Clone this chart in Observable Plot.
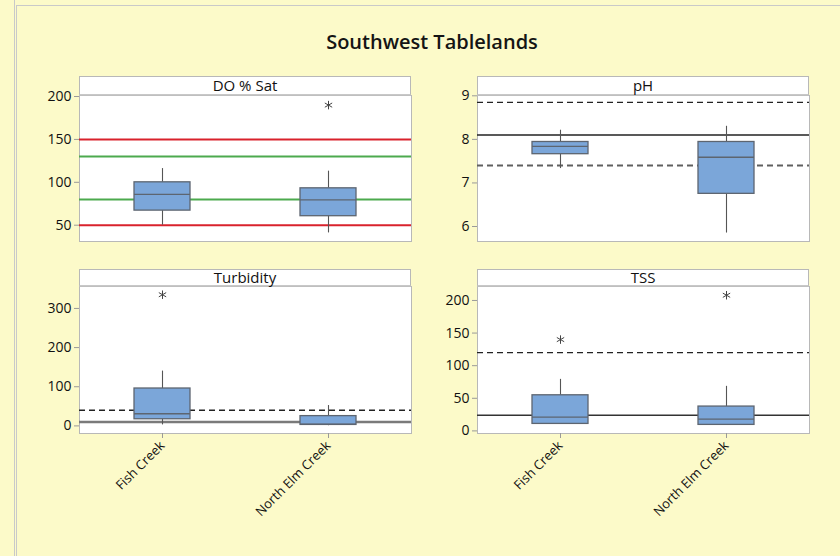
<!DOCTYPE html>
<html>
<head>
<meta charset="utf-8">
<script src="https://cdn.jsdelivr.net/npm/d3@7"></script>
<script src="https://cdn.jsdelivr.net/npm/@observablehq/plot@0.6"></script>
<style>
  html, body { margin: 0; padding: 0; }
  body { width: 840px; height: 556px; overflow: hidden; background: #fcfac9; }
  #chart { position: relative; width: 840px; height: 556px; background: #fcfac9;
           font-family: "Segoe UI", "Open Sans", "Noto Sans", sans-serif; }
  #edge { position: absolute; left: 14px; top: 0; height: 556px; border-left: 1px solid #c9c9c9; }
  #sheet { position: absolute; left: 16px; top: 5px; width: 840px; height: 560px;
           border-left: 1px solid #c9c9c9; border-top: 1px solid #c9c9c9; }
  #title { position: absolute; left: 232px; width: 400px; top: 32px; line-height: 20px;
           text-align: center; font-size: 20px; font-weight: 600; color: #141414; }
  .panel { position: absolute; }
  .panel svg { overflow: visible; }
</style>
</head>
<body>
<div id="chart">
  <div id="edge"></div>
  <div id="sheet"></div>
  <div id="title">Southwest Tablelands</div>
</div>
<script>
// Sampling sites along the x axis
const sites = ["Fish Creek", "North Elm Creek"];

// Box summaries per site: [lower whisker, Q1, median, Q3, upper whisker]
const doSatStats = [
  [50, 67, 86, 100, 116],
  [41, 60.5, 79.5, 93, 113]
];
const phStats = [
  [7.33, 7.66, 7.84, 7.94, 8.21],
  [5.85, 6.75, 7.59, 7.94, 8.3]
];
const turbidityStats = [
  [2.5, 17, 31, 95.5, 140],
  [0.5, 2.5, 4.5, 25, 52]
];
const tssStats = [
  [10.7, 10.7, 21, 54.6, 79],
  [9, 9.2, 18, 37.3, 68.3]
];

// Outliers: [site, value]
const doSatOutliers = [["North Elm Creek", 190]];
const phOutliers = [];
const turbidityOutliers = [["Fish Creek", 335]];
const tssOutliers = [["Fish Creek", 140], ["North Elm Creek", 208]];

// Guideline values
const doSatRedLimits = [50, 150];
const doSatGreenLimits = [80, 130];
const phSolid = [8.1];
const phDashedUpper = [8.85];
const phDashedLower = [7.4];
const turbiditySolid = [10];
const turbidityDashed = [40];
const tssSolid = [24];
const tssDashed = [120];

// Axis ticks
const doSatTicks = [50, 100, 150, 200];
const phTicks = [6, 7, 8, 9];
const turbidityTicks = [0, 100, 200, 300];
const tssTicks = [0, 50, 100, 150, 200];

const BOX_FILL = "#7ba6d9";
const BOX_EDGE = "#5d6570";
const WHISKER = "#555";
const FRAME = "#b8b8b8";
const BOX_INSET = 55;

function panel({title, stats, outliers, domain, ticks, guides, showX,
                left, top, width, height, marginLeft, marginRight, marginTop, marginBottom}) {
  const rows = sites.map((site, i) => ({
    site, low: stats[i][0], q1: stats[i][1], median: stats[i][2], q3: stats[i][3], high: stats[i][4]
  }));
  const svg = Plot.plot({
    width, height, marginLeft, marginRight, marginTop, marginBottom,
    style: {background: "transparent", fontFamily: "'Segoe UI', 'Open Sans', sans-serif", fontSize: "13px", overflow: "visible"},
    x: {type: "band", domain: sites, padding: 0, label: null, ...(showX ? {} : {axis: null})},
    y: {domain, axis: null, label: null},
    marks: [
      Plot.frame({fill: "white", stroke: FRAME}),
      ...guides,
      Plot.ruleX(rows, {x: "site", y1: "low", y2: "q1", stroke: WHISKER, strokeWidth: 1.1}),
      Plot.ruleX(rows, {x: "site", y1: "q3", y2: "high", stroke: WHISKER, strokeWidth: 1.1}),
      Plot.barY(rows, {x: "site", y1: "q1", y2: "q3", fill: BOX_FILL, stroke: BOX_EDGE, strokeWidth: 1.3,
                       insetLeft: BOX_INSET, insetRight: BOX_INSET}),
      Plot.tickY(rows, {x: "site", y: "median", stroke: BOX_EDGE, strokeWidth: 1.3,
                        insetLeft: BOX_INSET, insetRight: BOX_INSET}),
      Plot.dot(outliers, {x: d => d[0], y: d => d[1], symbol: "asterisk", r: 4, stroke: "#444", strokeWidth: 1}),
      Plot.axisY(ticks, {tickSize: 5, tickPadding: 3, stroke: "#9a9a9a", fill: "#111", label: null}),
      showX ? Plot.axisX({tickSize: 5, tickPadding: 5, tickRotate: -45, stroke: "#9a9a9a", fill: "#111",
                          label: null}) : null
    ]
  });

  const s = d3.select(svg);
  // Tick label sizes
  s.selectAll("g[aria-label='y-axis tick label']").attr("font-size", 14);
  s.selectAll("g[aria-label='x-axis tick label']").attr("font-size", 13);

  // Panel header strip with the parameter name
  const [x0, x1] = [marginLeft, width - marginRight];
  const head = s.append("g");
  head.append("rect")
    .attr("x", x0 + 0.5).attr("y", 0.5)
    .attr("width", x1 - x0 - 1).attr("height", marginTop - 0.5)
    .attr("fill", "white").attr("stroke", FRAME);
  head.append("line")
    .attr("x1", x0).attr("x2", x1).attr("y1", marginTop).attr("y2", marginTop)
    .attr("stroke", "#c2c2c2").attr("stroke-width", 1.6);
  head.append("text")
    .attr("x", (x0 + x1) / 2).attr("y", marginTop / 2 + 5.5)
    .attr("text-anchor", "middle").attr("font-size", 15).attr("fill", "#111")
    .text(title);

  const div = document.createElement("div");
  div.className = "panel";
  div.style.left = left + "px";
  div.style.top = top + "px";
  div.appendChild(svg);
  document.getElementById("chart").appendChild(div);
}

const dashed = "6,4";

panel({
  title: "DO % Sat", stats: doSatStats, outliers: doSatOutliers,
  domain: [31, 201.2], ticks: doSatTicks, showX: false,
  guides: [
    Plot.ruleY(doSatRedLimits, {stroke: "#d9222c", strokeWidth: 2}),
    Plot.ruleY(doSatGreenLimits, {stroke: "#4caa4e", strokeWidth: 2})
  ],
  left: 0, top: 76, width: 420, height: 166, marginLeft: 79, marginRight: 9, marginTop: 19, marginBottom: 1
});

panel({
  title: "pH", stats: phStats, outliers: phOutliers,
  domain: [5.656, 9.007], ticks: phTicks, showX: false,
  guides: [
    Plot.ruleY(phSolid, {stroke: "#222", strokeWidth: 1.3}),
    Plot.ruleY(phDashedUpper, {stroke: "#222", strokeWidth: 1.3, strokeDasharray: dashed}),
    Plot.ruleY(phDashedLower, {stroke: "#606060", strokeWidth: 1.8, strokeDasharray: dashed})
  ],
  left: 420, top: 76, width: 420, height: 166, marginLeft: 57, marginRight: 31, marginTop: 19, marginBottom: 1
});

panel({
  title: "Turbidity", stats: turbidityStats, outliers: turbidityOutliers,
  domain: [-19.4, 356], ticks: turbidityTicks, showX: true,
  guides: [
    Plot.ruleY(turbiditySolid, {stroke: "#7a7a7a", strokeWidth: 2.4}),
    Plot.ruleY(turbidityDashed, {stroke: "#222", strokeWidth: 1.3, strokeDasharray: dashed})
  ],
  left: 0, top: 269, width: 420, height: 264, marginLeft: 79, marginRight: 9, marginTop: 17, marginBottom: 100
});

panel({
  title: "TSS", stats: tssStats, outliers: tssOutliers,
  domain: [-4, 221.4], ticks: tssTicks, showX: true,
  guides: [
    Plot.ruleY(tssSolid, {stroke: "#333", strokeWidth: 1.3}),
    Plot.ruleY(tssDashed, {stroke: "#222", strokeWidth: 1.3, strokeDasharray: dashed})
  ],
  left: 420, top: 269, width: 420, height: 264, marginLeft: 57, marginRight: 31, marginTop: 17, marginBottom: 100
});
</script>
</body>
</html>
